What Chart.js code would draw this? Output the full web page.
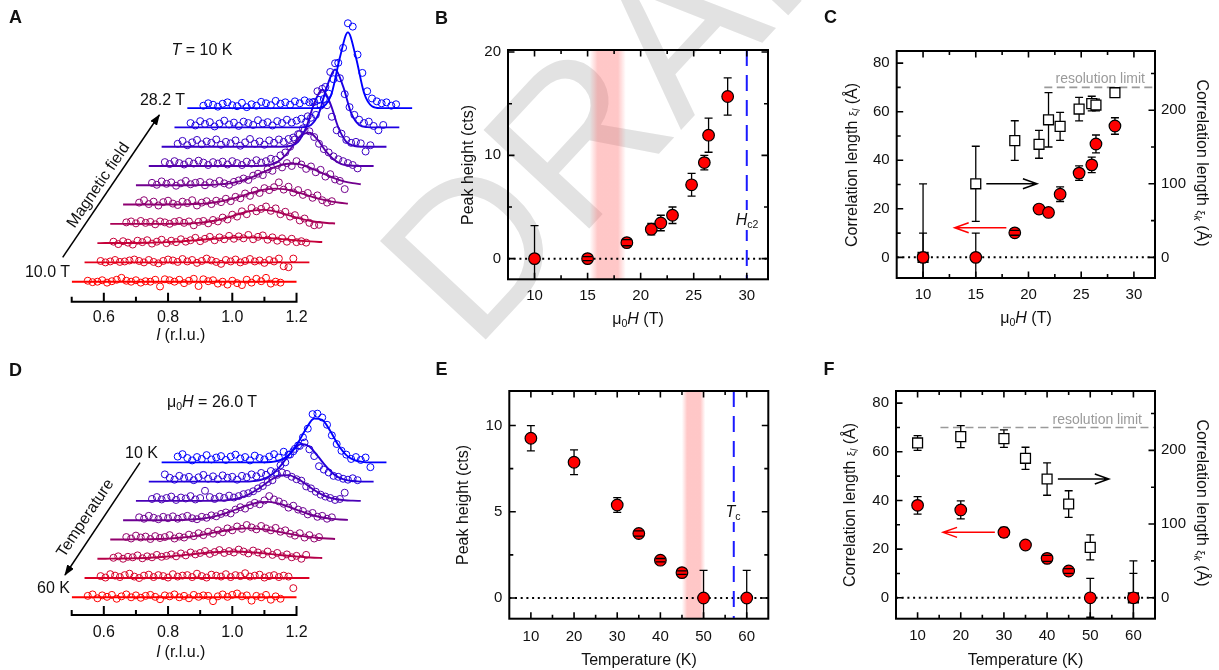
<!DOCTYPE html>
<html>
<head>
<meta charset="utf-8">
<script src="https://cdn.jsdelivr.net/npm/chart.js@4.4.1/dist/chart.umd.min.js"></script>
<style>
  body { margin: 0; background: #fff; }
  #page { position: relative; width: 1219px; height: 670px; overflow: hidden; font-family: "Liberation Sans", Arial, sans-serif; color: #111; }
  canvas, svg { position: absolute; }
  .t { position: absolute; white-space: nowrap; font-size: 16px; line-height: 1; transform: translate(-50%, -50%); }
  .r { transform: translate(-100%, -50%); }
  .up { transform: translate(-50%, -50%) rotate(-90deg); }
  .down { transform: translate(-50%, -50%) rotate(90deg); }
  .panel { font-weight: bold; font-size: 18px; }
  .lab { background: #fff; padding: 2px 0; }
  .res { font-size: 14px; color: #9a9a9a; }
  sub { font-size: 0.66em; vertical-align: -0.32em; line-height: 0; }
  .xi { font-size: 0.72em; }
</style>
</head>
<body>
<div id="page">
  <svg width="1219" height="670" style="left:0;top:0">
    <text transform="translate(474,352) rotate(-47)" font-family="Liberation Sans, Arial, sans-serif" font-size="210" fill="#e2e2e2">DRAFT</text>
    <defs>
      <marker id="head" markerWidth="11" markerHeight="8" refX="10" refY="4" orient="auto" markerUnits="userSpaceOnUse">
        <path d="M0,0 L11,4 L0,8 z" fill="#000"/>
      </marker>
    </defs>
    <line x1="62.7" y1="257.3" x2="159.3" y2="115" stroke="#000" stroke-width="1.5" marker-end="url(#head)"/>
    <line x1="140" y1="462.7" x2="65" y2="575" stroke="#000" stroke-width="1.5" marker-end="url(#head)"/>
  </svg>

  <canvas id="cA" width="430" height="335" style="left:0;top:0"></canvas>
  <canvas id="cB" width="380" height="335" style="left:420px;top:0"></canvas>
  <canvas id="cC" width="419" height="335" style="left:800px;top:0"></canvas>
  <canvas id="cD" width="430" height="335" style="left:0;top:335px"></canvas>
  <canvas id="cE" width="380" height="335" style="left:420px;top:335px"></canvas>
  <canvas id="cF" width="419" height="335" style="left:800px;top:335px"></canvas>

  <div class="t panel" style="left:15.5px;top:17px">A</div>
  <div class="t panel" style="left:441.5px;top:18px">B</div>
  <div class="t panel" style="left:830.5px;top:17px">C</div>
  <div class="t panel" style="left:15.5px;top:370px">D</div>
  <div class="t panel" style="left:441.5px;top:368.5px">E</div>
  <div class="t panel" style="left:829px;top:368.5px">F</div>

  <div class="t" style="left:202px;top:49.5px"><i>T</i> = 10 K</div>
  <div class="t r" style="left:185px;top:99.5px">28.2 T</div>
  <div class="t r" style="left:70px;top:271.7px">10.0 T</div>
  <div class="t" style="left:97.5px;top:185px;transform:translate(-50%,-50%) rotate(-55.8deg)">Magnetic field</div>
  <div class="t" style="left:181px;top:335px"><i>l</i> (r.l.u.)</div>

  <div class="t" style="left:212px;top:401.7px">μ<sub>0</sub><i>H</i> = 26.0 T</div>
  <div class="t r" style="left:158px;top:452.7px">10 K</div>
  <div class="t r" style="left:70px;top:588px">60 K</div>
  <div class="t" style="left:85px;top:518px;transform:translate(-50%,-50%) rotate(-56.3deg)">Temperature</div>
  <div class="t" style="left:181px;top:651.5px"><i>l</i> (r.l.u.)</div>

  <div class="t up" style="left:467.5px;top:164.6px">Peak height (cts)</div>
  <div class="t" style="left:638px;top:319.3px">μ<sub>0</sub><i>H</i> (T)</div>
  <div class="t lab" style="left:747px;top:220px"><i>H</i><sub>c2</sub></div>

  <div class="t up" style="left:851.7px;top:165px">Correlation length <span class="xi">ξ</span><sub><i>l</i></sub> (Å)</div>
  <div class="t down" style="left:1201.7px;top:163px">Correlation length <span class="xi">ξ</span><sub><i>k</i></sub> (Å)</div>
  <div class="t" style="left:1026px;top:318.3px">μ<sub>0</sub><i>H</i> (T)</div>
  <div class="t r res" style="left:1145px;top:78px">resolution limit</div>

  <div class="t up" style="left:463.3px;top:504.8px">Peak height (cts)</div>
  <div class="t" style="left:639px;top:660px">Temperature (K)</div>
  <div class="t lab" style="left:733px;top:511.7px"><i>T</i><sub>c</sub></div>

  <div class="t up" style="left:850px;top:504.8px">Correlation length <span class="xi">ξ</span><sub><i>l</i></sub> (Å)</div>
  <div class="t down" style="left:1201.7px;top:503px">Correlation length <span class="xi">ξ</span><sub><i>k</i></sub> (Å)</div>
  <div class="t" style="left:1025.5px;top:660px">Temperature (K)</div>
  <div class="t r res" style="left:1142px;top:419px">resolution limit</div>
</div>

<script>
// ---- scans (panels A and D): counts on a regular l grid, fits on a coarser grid ----
const scanL = Array.from({ length: 41 }, (_, k) => +(0.55 + 0.015 * k).toFixed(3));
const fitL = Array.from({ length: 29 }, (_, k) => +(0.5 + 0.025 * k).toFixed(3));

// panel A, T = 10 K, fields 10.0 ... 28.2 T (bottom to top)
const scansA = [
  [0.2,-0.1,0.0,0.3,-0.2,0.1,0.4,0.8,0.2,0.0,0.3,-0.2,0.1,0.0,0.4,-1.0,0.5,0.3,0.0,0.4,-0.3,0.2,0.6,-0.9,0.5,0.1,0.3,-0.4,0.0,-0.6,0.2,-0.3,-0.7,0.4,-0.2,0.6,0.1,0.8,-0.4,0.0,-0.2],
  [0.3,0.0,0.2,0.5,0.1,0.2,0.4,0.6,0.3,0.0,0.5,0.1,-0.2,0.3,0.6,0.4,0.1,0.7,0.2,0.5,-0.1,0.3,0.8,0.4,0.1,-0.3,0.5,0.2,0.6,0.0,0.3,0.7,0.2,0.4,-0.1,0.5,0.2,0.8,-0.8,-1.0,0.8],
  [0.3,-0.2,0.4,0.1,-0.3,0.5,0.2,0.6,-0.1,0.3,0.7,0.0,0.5,0.2,0.8,0.3,0.6,1.1,0.4,0.9,1.3,0.6,1.2,0.8,1.5,0.9,1.4,1.0,1.7,0.8,1.3,1.6,0.7,1.2,0.5,1.0,0.3,0.9,0.2,0.4,0.1],
  [0.3,0.5,0.1,0.6,0.2,0.4,-0.1,0.5,0.3,0.0,0.4,0.6,0.2,0.5,-0.3,0.4,0.6,0.1,0.8,0.5,1.3,0.9,1.9,1.5,2.6,2.0,3.3,2.6,3.1,3.6,2.7,3.2,2.0,2.5,1.5,1.8,0.7,1.1,0.2,-0.3,-0.2],
  [0.4,0.9,0.1,0.6,-0.2,0.5,0.8,0.2,-0.1,0.6,0.3,0.9,-0.2,0.4,0.7,0.1,0.8,0.5,1.2,0.7,1.6,1.3,2.3,1.8,2.9,2.4,3.4,3.0,3.6,4.6,3.1,3.7,2.5,3.0,2.0,2.4,1.4,1.9,0.9,0.4,0.7],
  [0.5,0.1,0.8,0.3,0.6,-0.1,0.4,0.9,0.2,0.5,0.7,0.0,0.6,0.3,0.9,0.4,0.1,0.7,1.0,1.4,1.1,2.0,2.4,2.1,3.3,3.0,4.2,3.7,4.6,4.0,5.0,4.3,3.4,3.9,2.7,3.2,1.8,2.3,1.2,0.9,-0.8],
  [0.8,0.4,1.0,0.6,0.3,0.9,0.5,1.1,0.7,0.2,0.8,0.5,0.9,0.3,1.0,0.6,0.2,0.9,0.5,1.2,0.7,1.0,1.5,1.3,2.2,2.8,4.0,5.5,6.6,7.4,7.2,6.0,4.6,3.5,2.8,2.0,1.4,1.0,0.6,0.2,-0.5],
  [0.6,1.2,0.3,0.9,1.4,0.5,1.1,0.8,1.5,0.4,1.0,0.7,1.3,0.2,0.9,1.6,0.6,1.1,0.4,1.3,0.8,1.5,1.0,1.6,1.9,2.6,3.8,6.3,9.2,11.5,12.0,8.6,6.2,3.4,2.7,1.4,0.8,1.0,0.7,-1.0,0.3],
  [0.9,0.4,1.3,0.7,1.1,0.2,0.8,1.4,0.6,1.0,0.3,1.2,0.9,0.5,1.5,0.8,1.1,0.4,1.3,0.9,1.6,1.0,1.4,1.8,1.2,2.0,2.6,4.5,8.4,11.5,13.3,10.2,6.9,4.2,2.6,1.6,0.9,1.2,0.3,-0.6,0.5],
  [0.5,1.0,0.7,0.3,0.9,1.2,0.6,0.4,1.1,0.2,0.8,0.5,1.3,1.0,0.6,1.5,0.9,1.2,0.7,1.4,1.0,1.6,1.2,1.3,1.7,1.9,3.0,6.0,9.4,12.5,17.6,16.9,11.1,7.3,3.5,2.0,1.4,1.0,1.2,0.5,0.8]
];
const fitsA = [
  [0,0,0,0,0,0,0,0,0,0,0,0,0,0,0,0,0,0,0,0,0,0,0,0,0,0,0,0,0],
  [0,0,0,0,0,0,0,0,0,0,0,0,0,0,0,0,0,0,0,0,0,0,0,0,0,0,0,0,0],
  [0,0.01,0.01,0.02,0.03,0.04,0.07,0.11,0.16,0.24,0.32,0.43,0.56,0.7,0.84,0.97,1.08,1.16,1.2,1.19,1.14,1.06,0.95,0.82,0.67,0.54,0.41,0.3,0.22],
  [0,0,0,0,0,0,0,0,0.02,0.04,0.1,0.2,0.38,0.64,1.04,1.51,2.03,2.49,2.8,2.9,2.75,2.38,1.91,1.39,0.93,0.58,0.32,0.17,0.08],
  [0,0,0,0,0,0,0.01,0.02,0.05,0.1,0.2,0.36,0.6,0.96,1.39,1.91,2.41,2.87,3.2,3.3,3.2,2.87,2.41,1.91,1.39,0.96,0.6,0.36,0.2],
  [0,0,0,0,0,0,0,0,0.02,0.06,0.13,0.26,0.5,0.86,1.4,2.07,2.84,3.56,4.14,4.47,4.46,4.05,3.42,2.66,1.94,1.26,0.77,0.44,0.22],
  [0,0,0,0,0,0,0,0,0,0,0,0,0,0,0.04,0.2,0.8,2.2,4.3,6.4,6.9,5.5,3.2,1.4,0.4,0.1,0,0,0],
  [0,0,0,0,0,0,0,0,0,0,0,0,0,0,0,0,0.15,1.0,4.0,9.0,11.8,9.0,4.0,1.0,0.15,0,0,0,0],
  [0,0,0,0,0,0,0,0,0,0,0,0,0,0,0,0,0.05,0.5,3.0,8.5,12.0,8.5,3.0,0.5,0.05,0,0,0,0],
  [0,0,0,0,0,0,0,0,0,0,0,0,0,0,0,0,0,0.4,3.2,10.5,15.7,10.5,3.2,0.4,0,0,0,0,0]
];

// panel D, mu0H = 26.0 T, temperatures 60 ... 10 K (bottom to top)
const scansD = [
  [0.3,0.6,-0.2,0.4,0.1,0.5,-0.3,0.2,0.6,0.0,0.4,-0.1,0.3,0.5,0.1,-0.4,0.4,0.2,0.6,0.0,0.3,-0.2,0.5,0.1,0.4,0.3,-0.8,0.2,0.6,0.1,0.5,0.8,0.2,0.4,-0.7,0.3,0.0,0.5,-0.5,0.2,-0.3],
  [0.4,0.1,0.8,0.5,0.2,0.6,0.9,0.3,0.0,0.5,0.7,0.2,0.6,0.4,0.1,0.8,0.3,0.5,0.6,0.2,0.9,0.4,0.1,0.7,0.5,0.3,0.8,0.2,0.6,0.4,1.0,0.3,0.5,0.7,0.1,0.4,0.6,0.2,0.5,0.3,-2.1],
  [0.2,0.5,0.0,0.4,0.3,0.7,0.1,0.5,0.3,0.8,0.4,0.6,0.9,0.5,1.1,0.7,1.3,0.9,1.2,1.6,1.0,1.4,1.8,1.2,1.6,1.3,1.9,1.5,1.1,1.7,1.3,0.9,1.5,0.8,1.2,0.5,0.9,0.3,0.6,0.0,0.8],
  [0.5,0.2,0.8,0.4,0.6,0.1,0.7,0.3,0.5,0.9,0.2,0.6,0.4,1.0,0.7,1.3,0.9,1.6,1.2,1.9,1.5,2.3,1.9,2.7,2.2,3.0,2.5,2.1,2.8,2.3,1.9,2.4,1.6,1.9,1.2,0.8,1.3,0.4,0.9,0.2,0.5],
  [0.6,0.3,0.9,0.5,0.2,0.7,0.4,0.8,0.3,0.6,0.9,0.4,0.2,0.7,0.5,1.0,0.8,1.3,1.6,1.4,2.2,2.7,2.4,3.1,3.6,3.3,4.1,5.0,4.3,3.9,3.4,2.6,3.0,2.2,1.9,1.2,1.5,0.7,0.9,0.3,0.6],
  [0.4,0.8,0.3,0.6,0.9,0.2,0.7,0.5,1.0,0.3,0.6,2.1,0.8,0.4,0.9,0.6,1.1,0.7,1.0,1.4,1.6,2.0,2.6,3.1,3.9,4.3,5.4,5.9,5.6,5.0,4.5,4.2,3.0,2.6,1.9,1.3,0.9,0.6,0.2,0.4,1.7],
  [1.5,0.8,0.4,1.2,0.7,1.0,0.3,0.9,1.4,0.6,1.1,0.5,1.3,0.8,1.0,0.4,1.2,0.9,1.5,1.1,1.8,1.4,2.2,1.9,3.4,4.0,5.6,6.8,7.4,8.1,6.7,5.3,3.2,2.5,1.9,1.2,1.0,0.6,0.4,0.7,0.3],
  [1.2,1.7,0.9,0.4,1.1,0.7,1.5,0.6,1.0,1.3,0.5,1.2,1.6,0.8,1.1,0.4,1.4,0.9,0.6,1.2,1.7,1.0,2.2,1.6,2.3,3.5,5.2,7.0,10.0,10.1,9.3,7.8,5.6,3.8,2.4,1.6,0.7,1.1,0.5,1.0,-1.0]
];
const fitsD = [
  [0,0,0,0,0,0,0,0,0,0,0,0,0,0,0,0,0,0,0,0,0,0,0,0,0,0,0,0,0],
  [0,0,0,0,0,0,0,0,0,0,0,0,0,0,0,0,0,0,0,0,0,0,0,0,0,0,0,0,0],
  [0.01,0.01,0.03,0.04,0.07,0.11,0.17,0.25,0.36,0.49,0.64,0.8,0.98,1.15,1.3,1.41,1.48,1.5,1.46,1.37,1.24,1.08,0.91,0.74,0.57,0.43,0.31,0.22,0.15],
  [0,0,0.01,0.02,0.03,0.05,0.09,0.16,0.26,0.4,0.6,0.85,1.14,1.46,1.77,2.03,2.21,2.3,2.26,2.12,1.88,1.58,1.27,0.96,0.7,0.48,0.31,0.19,0.11],
  [0,0,0,0,0,0,0.01,0.04,0.09,0.19,0.36,0.64,1.04,1.56,2.18,2.81,3.35,3.71,3.79,3.6,3.15,2.56,1.92,1.34,0.86,0.51,0.28,0.14,0.07],
  [0,0,0,0,0,0,0,0,0,0,0.04,0.11,0.29,0.65,1.29,2.25,3.42,4.54,5.27,5.34,4.73,3.66,2.47,1.46,0.75,0.34,0.13,0.05,0],
  [0,0,0,0,0,0,0,0,0,0,0,0,0,0.11,0.39,1.1,2.5,4.5,6.6,7.8,7.3,5.4,3.3,1.6,0.6,0.19,0.05,0,0],
  [0,0,0,0,0,0,0,0,0,0,0,0,0,0.02,0.15,0.6,1.8,4.1,7.0,9.1,8.8,6.5,3.6,1.5,0.46,0.11,0,0,0]
];
const coloursA = ['#ff0000','#e3001c','#c60039','#aa0055','#8e0071','#71008e','#5500aa','#3900c6','#1c00e3','#0000ff'];
const coloursD = ['#ff0000','#db0024','#b60049','#92006d','#6d0092','#4900b6','#2400db','#0000ff'];
const lTicks = [0.6, 0.8, 1.0, 1.2];
const lMinor = [0.5, 0.7, 0.9, 1.1];
const stepL = 0.04, stepCts = 4;   // waterfall offsets

// ---- panel B: peak height vs field ----
const fieldsB = [10, 15, 18.7, 21, 21.9, 23, 24.8, 26, 26.4, 28.2];
const peakB = [0, 0, 1.55, 2.85, 3.45, 4.2, 7.15, 9.3, 11.95, 15.7];
const peakErrB = [3.2, 0.2, 0.3, 0.55, 0.75, 0.8, 1.1, 0.7, 1.65, 1.8];
const bandB = [15.2, 18.6];
const hc2 = 30;

// ---- panel C: correlation lengths vs field ----
const fieldsC = [10, 15, 18.7, 21, 21.9, 23, 24.8, 26, 26.4, 28.2];
const xiLC = [0, 0, 10.1, 19.9, 18.5, 26.0, 34.7, 38.1, 46.7, 54.1];
const xiLErrC = [10, 10, 1, 1.5, 1.5, 3, 3, 3.2, 3.7, 3.4];
const xiKC = [0, 100, 158.7, 153.7, 187, 178, 201.6, 209, 207, 223.8];
const xiKErrC = [100, 51, 27, 19, 37, 19, 16, 10, 8, 5];

// ---- panel E: peak height vs temperature ----
const tempsE = [10, 20, 30, 35, 40, 45, 50, 60];
const peakE = [9.26, 7.87, 5.39, 3.74, 2.19, 1.47, 0, 0];
const peakErrE = [0.73, 0.72, 0.43, 0.15, 0.1, 0.1, 1.6, 1.6];
const bandE = [45, 50.4];
const tc = 57;

// ---- panel F: correlation lengths vs temperature ----
const tempsF = [10, 20, 30, 35, 40, 45, 50, 60];
const xiLF = [38.0, 36.1, 26.9, 21.7, 16.2, 11.0, 0, 0];
const xiLErrF = [3.6, 3.7, 2.0, 1.5, 1.2, 1.0, 8, 10];
const xiKF = [210, 218.6, 215.9, 189.2, 161.1, 127.2, 68.4, 0];
const xiKErrF = [10, 15, 12, 15, 22, 18, 17, 50];

const resLimit = 70;   // in units of the left axis
const kPerL = 3.3;     // right axis / left axis

Chart.defaults.font.family = '"Liberation Sans", Arial, sans-serif';
Chart.defaults.color = '#111';

// background band, zero line, marker lines, arrows
const decorPlugin = {
  id: 'decor',
  beforeDatasetsDraw(chart, args, o) {
    const { ctx, chartArea: a, scales } = chart;
    const xs = scales.x, ys = scales.y;
    ctx.save();
    if (o.band) {
      const x1 = xs.getPixelForValue(o.band[0]), x2 = xs.getPixelForValue(o.band[1]);
      const g = ctx.createLinearGradient(x1, 0, x2, 0);
      g.addColorStop(0, 'rgba(255,100,100,0)');
      g.addColorStop(0.22, 'rgba(255,100,100,0.36)');
      g.addColorStop(0.78, 'rgba(255,100,100,0.36)');
      g.addColorStop(1, 'rgba(255,100,100,0)');
      ctx.fillStyle = g;
      ctx.fillRect(x1, a.top, x2 - x1, a.bottom - a.top);
    }
    const y0 = ys.getPixelForValue(0);
    ctx.strokeStyle = '#000';
    ctx.lineWidth = 2;
    ctx.setLineDash([2, 3.7]);
    ctx.beginPath(); ctx.moveTo(a.left, y0); ctx.lineTo(a.right, y0); ctx.stroke();
    if (o.vline != null) {
      const xv = xs.getPixelForValue(o.vline);
      ctx.strokeStyle = '#1a1aff';
      ctx.setLineDash([16, 9]);
      ctx.beginPath(); ctx.moveTo(xv, a.top); ctx.lineTo(xv, a.bottom); ctx.stroke();
    }
    if (o.res) {
      const yr = ys.getPixelForValue(o.res[1]);
      ctx.strokeStyle = '#9a9a9a';
      ctx.lineWidth = 1.6;
      ctx.setLineDash([8, 4.5]);
      ctx.beginPath(); ctx.moveTo(xs.getPixelForValue(o.res[0]), yr); ctx.lineTo(a.right, yr); ctx.stroke();
    }
    ctx.setLineDash([]);
    (o.arrows || []).forEach(ar => {
      const p1 = xs.getPixelForValue(ar[0]), p2 = xs.getPixelForValue(ar[1]), py = ys.getPixelForValue(ar[2]);
      const dir = p2 > p1 ? 1 : -1;
      ctx.strokeStyle = ar[3];
      ctx.lineWidth = 1.5;
      ctx.beginPath();
      ctx.moveTo(p1, py); ctx.lineTo(p2, py);
      ctx.moveTo(p2 - dir * 14, py - 5); ctx.lineTo(p2, py); ctx.lineTo(p2 - dir * 14, py + 5);
      ctx.stroke();
    });
    ctx.restore();
  }
};

// error bars: behind the markers; the ones hidden inside a marker show only their caps, on top
function drawErrors(chart, front) {
  const { ctx, chartArea: a } = chart;
  ctx.save();
  ctx.beginPath(); ctx.rect(a.left, a.top, a.right - a.left, a.bottom - a.top); ctx.clip();
  ctx.strokeStyle = '#000';
  ctx.lineWidth = 1.3;
  chart.data.datasets.forEach(ds => {
    if (!ds.errors) return;
    const xs = chart.scales.x, ys = chart.scales[ds.yAxisID || 'y'];
    ds.data.forEach((p, j) => {
      const e = ds.errors[j];
      const x = xs.getPixelForValue(p.x);
      const yt = ys.getPixelForValue(p.y + e), yb = ys.getPixelForValue(p.y - e);
      const small = (yb - yt) / 2 < 3.2;
      if (small !== front) return;
      ctx.beginPath();
      if (!small) { ctx.moveTo(x, yt); ctx.lineTo(x, yb); }
      const w = small ? 4.8 : 4;
      ctx.moveTo(x - w, yt); ctx.lineTo(x + w, yt);
      ctx.moveTo(x - w, yb); ctx.lineTo(x + w, yb);
      ctx.stroke();
    });
  });
  ctx.restore();
}
const errorPlugin = {
  id: 'errors',
  beforeDatasetsDraw(chart) { drawErrors(chart, false); },
  afterDatasetsDraw(chart) { drawErrors(chart, true); }
};

// box with inward ticks on all four sides
const framePlugin = {
  id: 'frame',
  afterDraw(chart, args, o) {
    const { ctx, chartArea: a, scales } = chart;
    ctx.save();
    ctx.strokeStyle = '#000';
    ctx.lineWidth = 1.6;
    ctx.beginPath();
    const seg = (x1, y1, x2, y2) => { ctx.moveTo(x1, y1); ctx.lineTo(x2, y2); };
    [[o.xMajor, 6.5], [o.xMinor, 4]].forEach(([vals, len]) => vals.forEach(v => {
      const x = scales.x.getPixelForValue(v);
      seg(x, a.bottom, x, a.bottom - len); seg(x, a.top, x, a.top + len);
    }));
    [[o.yMajor, 6.5], [o.yMinor, 4]].forEach(([vals, len]) => vals.forEach(v => {
      const y = scales.y.getPixelForValue(v);
      seg(a.left, y, a.left + len, y);
      if (!scales.y2) seg(a.right, y, a.right - len, y);
    }));
    if (scales.y2) {
      [[o.y2Major, 6.5], [o.y2Minor, 4]].forEach(([vals, len]) => vals.forEach(v => {
        const y = scales.y2.getPixelForValue(v);
        seg(a.right, y, a.right - len, y);
      }));
    }
    ctx.stroke();
    ctx.lineWidth = 2;
    ctx.strokeRect(a.left, a.top, a.right - a.left, a.bottom - a.top);
    ctx.restore();
  }
};

// l axis under the waterfall
const lAxisPlugin = {
  id: 'laxis',
  afterDraw(chart) {
    const { ctx, chartArea: a, scales: { x } } = chart;
    ctx.save();
    ctx.strokeStyle = '#000';
    ctx.lineWidth = 2;
    ctx.beginPath();
    ctx.moveTo(x.getPixelForValue(0.5) - 1, a.bottom); ctx.lineTo(x.getPixelForValue(1.2) + 1, a.bottom);
    lTicks.forEach(v => { const p = x.getPixelForValue(v); ctx.moveTo(p, a.bottom); ctx.lineTo(p, a.bottom - 9); });
    lMinor.forEach(v => { const p = x.getPixelForValue(v); ctx.moveTo(p, a.bottom); ctx.lineTo(p, a.bottom - 5); });
    ctx.stroke();
    ctx.restore();
  }
};

function axis(min, max, ticks, pad, fit) {
  return {
    type: 'linear', min, max,
    grid: { display: false, drawTicks: false },
    border: { display: false },
    ticks: { autoSkip: false, maxRotation: 0, font: { size: 15 }, color: '#111', padding: pad },
    afterBuildTicks: s => { s.ticks = ticks.map(v => ({ value: v })); },
    afterFit: fit
  };
}

function circles(xs, ys, errs) {
  return {
    data: xs.map((x, i) => ({ x, y: ys[i] })), errors: errs, yAxisID: 'y',
    showLine: false, pointStyle: 'circle', pointRadius: 5.8,
    pointBackgroundColor: '#ff0000', pointBorderColor: '#000', pointBorderWidth: 1.2
  };
}
function squares(xs, ys, errs) {
  return {
    data: xs.map((x, i) => ({ x, y: ys[i] })), errors: errs, yAxisID: 'y2',
    showLine: false, pointStyle: 'rect', pointRadius: 7,
    pointBackgroundColor: '#fff', pointBorderColor: '#000', pointBorderWidth: 1.3
  };
}

function baseOptions(padding, scales, extra) {
  return {
    responsive: false, animation: false, events: [], devicePixelRatio: 1,
    layout: { padding },
    scales,
    plugins: Object.assign({ legend: { display: false }, tooltip: { enabled: false } }, extra)
  };
}

function waterfall(scans, fits, colours) {
  const sets = [];
  scans.forEach((scan, i) => {
    sets.push({
      data: fitL.map((l, k) => ({ x: l + i * stepL, y: fits[i][k] + i * stepCts })),
      borderColor: colours[i], borderWidth: 1.9, pointRadius: 0,
      cubicInterpolationMode: 'monotone', fill: false, order: 100 - 2 * i
    });
    sets.push({
      data: scanL.map((l, k) => ({ x: l + i * stepL, y: scan[k] + i * stepCts })),
      showLine: false, pointRadius: 3.5, pointBorderWidth: 1,
      pointBorderColor: colours[i], pointBackgroundColor: 'rgba(0,0,0,0)', order: 99 - 2 * i
    });
  });
  return sets;
}

function waterfallChart(id, scans, fits, colours, ymin, ymax, padding, tickPad) {
  new Chart(document.getElementById(id), {
    type: 'line',
    data: { datasets: waterfall(scans, fits, colours) },
    options: baseOptions(padding, {
      x: Object.assign(axis(0.5, 1.6, lTicks, tickPad, s => { s.height = 25; }),
        { ticks: { autoSkip: false, maxRotation: 0, font: { size: 16 }, color: '#111', padding: tickPad, callback: v => v.toFixed(1) } }),
      y: { type: 'linear', display: false, min: ymin, max: ymax }
    }, {}),
    plugins: [lAxisPlugin]
  });
}

waterfallChart('cA', scansA, fitsA, coloursA, -4.15, 56.35, { left: 71.7, right: 2.7, top: 10, bottom: 8.3 }, 6);
waterfallChart('cD', scansD, fitsD, coloursD, -3.67, 47.16, { left: 71.7, right: 2.7, top: 35, bottom: 30 }, 7.5);

// B
new Chart(document.getElementById('cB'), {
  type: 'line',
  data: { datasets: [circles(fieldsB, peakB, peakErrB)] },
  options: baseOptions({ left: 0, right: 32, top: 50, bottom: 25.7 }, {
    x: axis(7.5, 32, [10, 15, 20, 25, 30], 7.5, s => { s.height = 30; }),
    y: axis(-2, 20.2, [0, 10, 20], 7, s => { s.width = 88; })
  }, {
    decor: { band: bandB, vline: hc2 },
    frame: { xMajor: [10, 15, 20, 25, 30], xMinor: [12.5, 17.5, 22.5, 27.5], yMajor: [0, 10, 20], yMinor: [5, 15] }
  }),
  plugins: [decorPlugin, errorPlugin, framePlugin]
});

// C
new Chart(document.getElementById('cC'), {
  type: 'line',
  data: { datasets: [circles(fieldsC, xiLC, xiLErrC), squares(fieldsC, xiKC, xiKErrC)] },
  options: baseOptions({ left: 0, right: 29, top: 51, bottom: 27 }, {
    x: axis(7.5, 32, [10, 15, 20, 25, 30], 8, s => { s.height = 30; }),
    y: axis(-8.5, 85, [0, 20, 40, 60, 80], 7, s => { s.width = 96.7; }),
    y2: Object.assign(axis(-8.5 * kPerL, 85 * kPerL, [0, 100, 200], 6, s => { s.width = 35; }), { position: 'right' })
  }, {
    decor: { res: [21.5, resLimit], arrows: [[16.0, 20.8, 30.3, '#000'], [17.9, 13.0, 12.2, '#ff0000']] },
    frame: { xMajor: [10, 15, 20, 25, 30], xMinor: [12.5, 17.5, 22.5, 27.5], yMajor: [0, 20, 40, 60, 80], yMinor: [10, 30, 50, 70], y2Major: [0, 100, 200], y2Minor: [50, 150, 250] }
  }),
  plugins: [decorPlugin, errorPlugin, framePlugin]
});

// E
new Chart(document.getElementById('cE'), {
  type: 'line',
  data: { datasets: [circles(tempsE, peakE, peakErrE)] },
  options: baseOptions({ left: 0, right: 31.7, top: 56, bottom: 21.3 }, {
    x: axis(5, 65, [10, 20, 30, 40, 50, 60], 9, s => { s.height = 30; }),
    y: axis(-1.2, 12, [0, 5, 10], 7, s => { s.width = 89.3; })
  }, {
    decor: { band: bandE, vline: tc },
    frame: { xMajor: [10, 20, 30, 40, 50, 60], xMinor: [15, 25, 35, 45, 55], yMajor: [0, 5, 10], yMinor: [2.5, 7.5] }
  }),
  plugins: [decorPlugin, errorPlugin, framePlugin]
});

// F
new Chart(document.getElementById('cF'), {
  type: 'line',
  data: { datasets: [circles(tempsF, xiLF, xiLErrF), squares(tempsF, xiKF, xiKErrF)] },
  options: baseOptions({ left: 0, right: 29, top: 56, bottom: 21.3 }, {
    x: axis(5, 65, [10, 20, 30, 40, 50, 60], 8.3, s => { s.height = 30; }),
    y: axis(-8.6, 85, [0, 20, 40, 60, 80], 7, s => { s.width = 96; }),
    y2: Object.assign(axis(-8.6 * kPerL, 85 * kPerL, [0, 100, 200], 6, s => { s.width = 35; }), { position: 'right' })
  }, {
    decor: { res: [15.3, resLimit], arrows: [[42.5, 54.3, 48.8, '#000'], [27.9, 15.9, 26.9, '#ff0000']] },
    frame: { xMajor: [10, 20, 30, 40, 50, 60], xMinor: [15, 25, 35, 45, 55], yMajor: [0, 20, 40, 60, 80], yMinor: [10, 30, 50, 70], y2Major: [0, 100, 200], y2Minor: [50, 150, 250] }
  }),
  plugins: [decorPlugin, errorPlugin, framePlugin]
});
</script>
</body>
</html>
